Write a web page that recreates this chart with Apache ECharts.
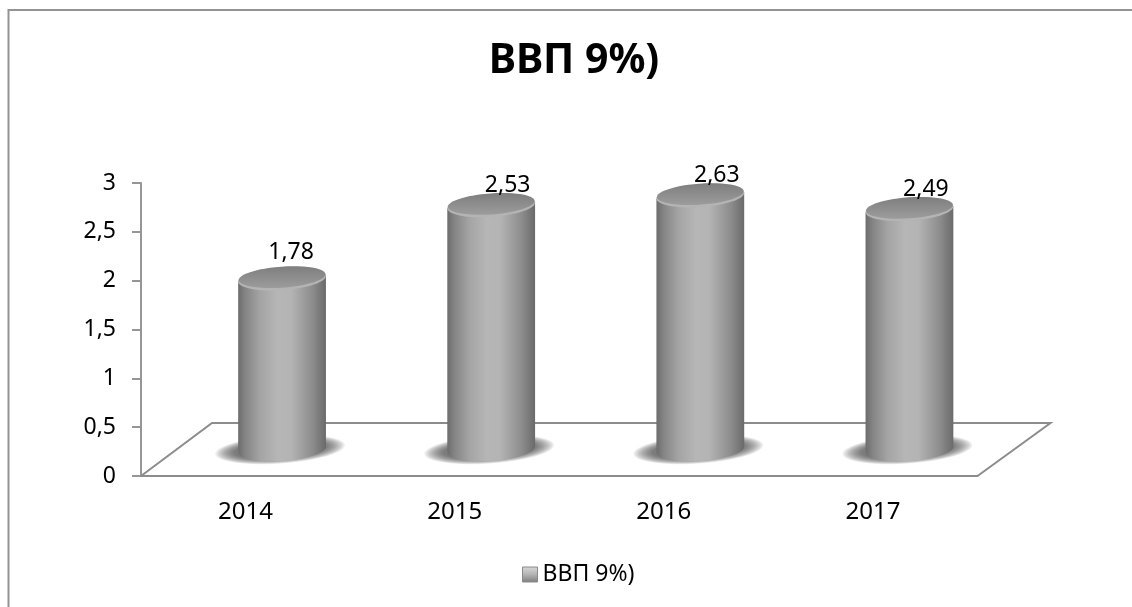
<!DOCTYPE html>
<html>
<head>
<meta charset="utf-8">
<script src="https://cdn.jsdelivr.net/npm/echarts@6/dist/echarts.min.js"></script>
<style>
  html, body { margin: 0; padding: 0; background: #fff; }
  #chart { width: 1132px; height: 607px; }
</style>
</head>
<body>
<div id="chart"></div>
<script>
const years = ['2014', '2015', '2016', '2017'];
const gdp = [1.78, 2.53, 2.63, 2.49];
const yTicks = { min: 0, max: 3, interval: 0.5 };
const seriesName = 'ВВП 9%)';

const FONT = '"Noto Sans", sans-serif';
const comma = (v) => String(v).replace('.', ',');

// floor depth of the fake 3d plot
const DEPTH_X = 73;
const DEPTH_Y = 53;
const TILT = 0.07;
const CAP_DROP = 3;

function ellipsePts(cx, cy, rx, ry, from, to) {
  const pts = [];
  for (let i = 0; i <= 48; i++) {
    const a = from + ((to - from) * i) / 48;
    const ex = rx * Math.cos(a);
    const ey = ry * Math.sin(a);
    pts.push([
      cx + ex * Math.cos(TILT) + ey * Math.sin(TILT),
      cy - ex * Math.sin(TILT) + ey * Math.cos(TILT),
    ]);
  }
  return pts;
}

function renderFloor(params) {
  const r = params.coordSys;
  const bottom = r.y + r.height;
  return {
    type: 'polyline',
    silent: true,
    shape: {
      points: [
        [r.x, bottom],
        [r.x + 71, bottom - DEPTH_Y],
        [r.x + r.width + 73, bottom - DEPTH_Y],
        [r.x + r.width, bottom],
      ],
    },
    style: { stroke: '#8c8c8c', lineWidth: 2, fill: null },
  };
}

function renderCylinder(params, api) {
  const top = api.coord([api.value(0), api.value(1)]);
  const base = api.coord([api.value(0), 0]);
  const cx = top[0] + DEPTH_X / 2;
  const topY = top[1] - DEPTH_Y / 2 + CAP_DROP;
  const baseY = base[1] - DEPTH_Y / 2;
  const rx = 44;
  const ry = 11.5;

  const topLeft = ellipsePts(cx, topY, rx, ry, Math.PI, Math.PI)[0];
  const topRight = ellipsePts(cx, topY, rx, ry, 0, 0)[0];
  const body = [topRight, ...ellipsePts(cx, baseY, rx, ry, 0, Math.PI), topLeft];

  const bodyFill = new echarts.graphic.LinearGradient(0, 0, 1, 0, [
    { offset: 0, color: '#6c6c6c' },
    { offset: 0.08, color: '#848484' },
    { offset: 0.25, color: '#a4a4a4' },
    { offset: 0.45, color: '#b6b6b6' },
    { offset: 0.6, color: '#b4b4b4' },
    { offset: 0.85, color: '#8c8c8c' },
    { offset: 1, color: '#6a6a6a' },
  ]);
  const capFill = new echarts.graphic.LinearGradient(0, 0, 0, 1, [
    { offset: 0, color: '#7e7e7e' },
    { offset: 1, color: '#9c9c9c' },
  ]);

  // soft floor shadow, stacked from wide and faint to narrow and dark
  const shadow = [];
  for (let k = 0; k < 12; k++) {
    shadow.push({
      type: 'polygon',
      shape: { points: ellipsePts(cx - 2, baseY, rx + 21 - k * 1.7, ry + 2.5 - k * 0.45, 0, Math.PI * 2) },
      style: { fill: 'rgba(70,70,70,0.09)' },
    });
  }

  return {
    type: 'group',
    children: [
      ...shadow,
      { type: 'polygon', shape: { points: body }, style: { fill: bodyFill } },
      // light rim under the cap, then the darker top face
      {
        type: 'polygon',
        shape: { points: ellipsePts(cx, topY, rx, ry, 0, Math.PI * 2) },
        style: { fill: '#b4b4b4' },
      },
      {
        type: 'polygon',
        shape: { points: ellipsePts(cx, topY - 1.5, rx - 0.5, ry - 1, 0, Math.PI * 2) },
        style: { fill: capFill },
      },
      {
        type: 'text',
        style: {
          x: cx + (params.dataIndex === 0 ? 9 : 16.5),
          y: topY - (params.dataIndex === 0 ? 26 : 20),
          text: comma(api.value(1)),
          font: '23px ' + FONT,
          fill: '#000',
          align: 'center',
          verticalAlign: 'middle',
        },
      },
    ],
  };
}

const chart = echarts.init(document.getElementById('chart'), null, { renderer: 'canvas' });
chart.setOption({
  animation: false,
  backgroundColor: '#fff',
  textStyle: { fontFamily: FONT },
  title: {
    text: seriesName,
    left: 569,
    top: 36,
    textAlign: 'center',
    textStyle: { fontSize: 41, fontWeight: 'bold', color: '#000', fontFamily: FONT },
  },
  legend: {
    data: [
      {
        name: seriesName,
        icon: 'rect',
        itemStyle: {
          color: new echarts.graphic.LinearGradient(0, 0, 0, 1, [
            { offset: 0, color: '#d8d8d8' },
            { offset: 0.5, color: '#b4b4b4' },
            { offset: 1, color: '#7c7c7c' },
          ]),
          borderColor: '#8a8a8a',
          borderWidth: 1,
        },
      },
    ],
    left: 517,
    top: 558,
    itemWidth: 15,
    itemHeight: 15,
    itemGap: 6,
    textStyle: { fontSize: 23, color: '#000', fontFamily: FONT },
  },
  grid: { left: 141, right: 154.5, top: 183, bottom: 131 },
  xAxis: {
    type: 'category',
    data: years,
    axisLine: { lineStyle: { color: '#8c8c8c', width: 2 } },
    axisTick: { length: 8, lineStyle: { color: '#8c8c8c', width: 2 } },
    axisLabel: { fontSize: 24, color: '#000', margin: 24, fontFamily: FONT },
  },
  yAxis: {
    type: 'value',
    min: yTicks.min,
    max: yTicks.max,
    interval: yTicks.interval,
    splitLine: { show: false },
    axisLine: { show: true, lineStyle: { color: '#969696', width: 2 } },
    axisTick: { show: true, length: 9, lineStyle: { color: '#969696', width: 2 } },
    axisLabel: { fontSize: 23, color: '#000', margin: 25, padding: [6, 0, 0, 0], formatter: comma, fontFamily: FONT },
  },
  graphic: [
    {
      type: 'polyline',
      silent: true,
      z: -1,
      shape: { points: [[8.5, 607], [8.5, 10], [1132, 10]] },
      style: { stroke: '#939393', lineWidth: 2, fill: null },
    },
  ],
  series: [
    {
      type: 'custom',
      z: 1,
      silent: true,
      data: [0],
      coordinateSystem: 'cartesian2d',
      renderItem: renderFloor,
    },
    {
      name: seriesName,
      type: 'custom',
      z: 2,
      silent: true,
      coordinateSystem: 'cartesian2d',
      itemStyle: { color: '#a6a6a6' },
      encode: { x: 0, y: 1 },
      data: years.map((y, i) => [i, gdp[i]]),
      renderItem: renderCylinder,
    },
  ],
});
</script>
</body>
</html>
